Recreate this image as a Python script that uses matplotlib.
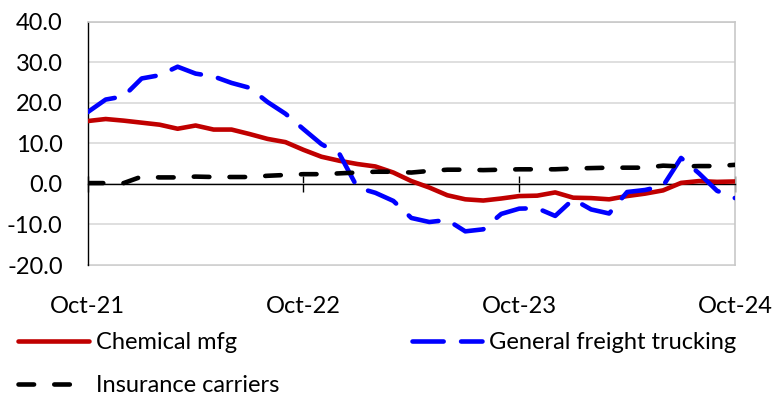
import matplotlib
matplotlib.use("Agg")
import matplotlib.pyplot as plt
import numpy as np

plt.rcParams['font.family'] = ['Lato', 'DejaVu Sans']

x_ticklabels = ["Oct-21", "Oct-22", "Oct-23", "Oct-24"]

chemical = [15.5, 16.0, 15.6, 15.1, 14.6, 13.6, 14.4, 13.4, 13.4, 12.3, 11.1, 10.3,
            8.4, 6.7, 5.7, 4.9, 4.3, 2.8, 0.7, -0.9, -2.8, -3.8, -4.1, -3.6,
            -3.0, -2.9, -2.1, -3.4, -3.5, -3.8, -3.0, -2.4, -1.6, 0.25, 0.7, 0.5, 0.6]

trucking = [17.7, 20.8, 21.6, 26.0, 26.8, 28.9, 27.2, 26.5, 24.9, 23.7, 20.2, 17.3,
            13.5, 9.8, 7.4, -0.9, -2.2, -4.2, -8.4, -9.4, -8.9, -11.7, -11.2, -7.4,
            -6.1, -6.0, -7.9, -3.8, -6.3, -7.3, -2.0, -1.5, -0.5, 6.4, 2.6, -1.7, -3.5]

insurance = [0.2, 0.2, 0.2, 1.8, 1.6, 1.6, 1.8, 1.7, 1.7, 1.7, 2.0, 2.2,
             2.4, 2.4, 2.6, 2.8, 3.0, 3.0, 2.8, 3.2, 3.5, 3.5, 3.4, 3.5,
             3.6, 3.6, 3.6, 3.8, 3.9, 4.0, 4.0, 4.0, 4.5, 4.3, 4.4, 4.4, 4.7]

months = np.arange(len(chemical))

fig = plt.figure(figsize=(7.74, 4.0), dpi=100)
ax = fig.add_axes([87.7/774, 1-265/400, (735-87.7)/774, (265-21.7)/400])

lw = 3.3
l1, = ax.plot(months, chemical, color="#c00000", lw=lw, solid_capstyle="round",
              label="Chemical mfg", zorder=3)
l2, = ax.plot(months, trucking, color="#0000ff", lw=lw, dashes=(6.8, 3.8),
              dash_capstyle="round", label="General freight trucking", zorder=4)
l3, = ax.plot(months, insurance, color="black", lw=lw, dashes=(3.4, 4.4),
              dash_capstyle="round", label="Insurance carriers", zorder=5)

ax.set_xlim(0, 36)
ax.set_ylim(-20, 40)
ax.set_yticks(np.arange(-20, 41, 10))
ax.set_yticklabels([f"{v:.1f}" for v in np.arange(-20, 41, 10)])
ax.tick_params(axis='y', length=0, pad=18, labelsize=17)
ax.yaxis.grid(True, color="#d9d9d9", lw=1.2)
ax.set_axisbelow(True)

# category axis crossing at zero
ax.spines['bottom'].set_position(('data', 0))
ax.spines['bottom'].set_color('black')
ax.spines['bottom'].set_linewidth(1.0)
ax.set_xticks([0, 12, 24, 36])
ax.tick_params(axis='x', direction='inout', length=12, width=1.0,
               labelbottom=False, color='black')

for s in ['top', 'right']:
    ax.spines[s].set_color('#c8c8c8')
    ax.spines[s].set_linewidth(1.2)
ax.spines['left'].set_color('black')
ax.spines['left'].set_linewidth(1.0)

sec = ax.secondary_xaxis(location=0)
sec.set_xticks([0, 12, 24, 36])
sec.set_xticklabels(x_ticklabels)
sec.tick_params(length=0, pad=22, labelsize=17)
sec.spines['bottom'].set_color('#c8c8c8')
sec.spines['bottom'].set_linewidth(1.2)

leg = fig.legend([l1, l3, l2], [l1.get_label(), l3.get_label(), l2.get_label()],
                 ncol=2, loc='upper left',
                 bbox_to_anchor=(18/774, 1-332/400), frameon=False, fontsize=17,
                 handlelength=3.0, handletextpad=0.3, columnspacing=5.6,
                 labelspacing=0.95, borderaxespad=0, borderpad=0)

fig.savefig("out.png", dpi=100)
